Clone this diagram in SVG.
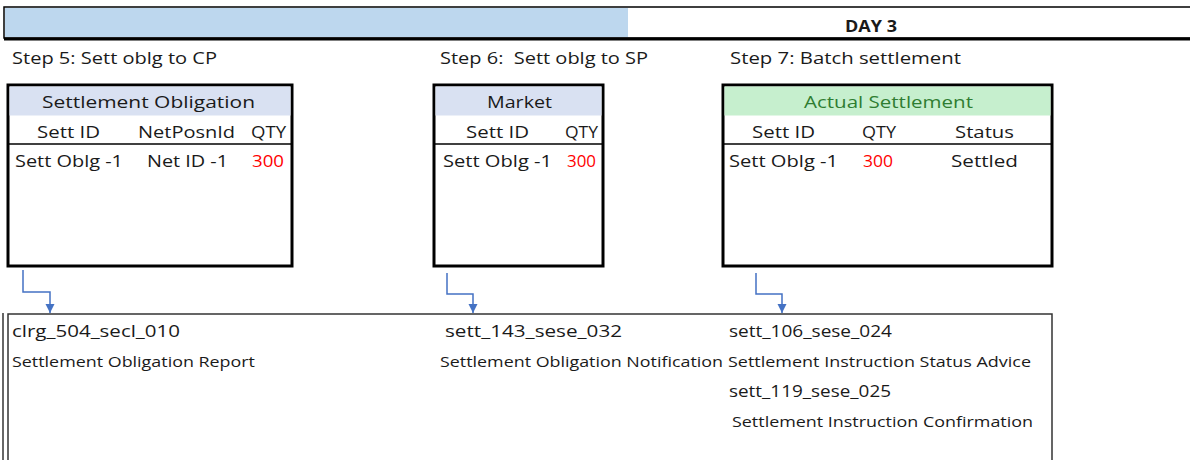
<svg xmlns="http://www.w3.org/2000/svg" width="1190" height="460" viewBox="0 0 1190 460">
<style>
  text { font-family: "Open Sans", "Liberation Sans", sans-serif; fill: #1a1a1a; }
  .t16 { font-size: 16px; }
  .t14 { font-size: 14px; }
  .red { fill: #FF0000; }
  .green { fill: #2F7D32; }
  .box { fill: #fff; stroke: #000; stroke-width: 3; }
  .sep { stroke: #000; stroke-width: 1.5; }
  .conn { fill: none; stroke: #4472C4; stroke-width: 1.5; }
  .frame { fill: none; stroke: #333; stroke-width: 1.5; }
</style>
<defs>
  <marker id="arr" viewBox="0 0 10 10" refX="10" refY="5" markerWidth="9" markerHeight="10" markerUnits="userSpaceOnUse" orient="auto">
    <path d="M0,0 L10,5 L0,10 z" fill="#4472C4"/>
  </marker>
</defs>
<rect width="1190" height="460" fill="#fff"/>

<g id="header-bar">
  <rect x="4" y="7" width="1190" height="31" fill="#fff" stroke="#000" stroke-width="1.5"/>
  <rect x="5" y="8" width="623" height="29" fill="#BDD7EE"/>
  <line x1="4" y1="39" x2="1190" y2="39" stroke="#000" stroke-width="3"/>
  <text x="845" y="32" font-size="16" font-weight="bold" textLength="52" lengthAdjust="spacingAndGlyphs">DAY 3</text>
</g>

<g id="step-labels" class="t16">
  <text x="12" y="64" textLength="205" lengthAdjust="spacingAndGlyphs">Step 5: Sett oblg to CP</text>
  <text x="440" y="64" textLength="208" lengthAdjust="spacingAndGlyphs" xml:space="preserve">Step 6:  Sett oblg to SP</text>
  <text x="730" y="64" textLength="231" lengthAdjust="spacingAndGlyphs">Step 7: Batch settlement</text>
</g>

<g id="settlement-obligation" class="t16">
  <rect class="box" x="8" y="85" width="284" height="181"/>
  <rect x="9.5" y="86.5" width="281" height="29" fill="#D9E1F2"/>
  <line class="sep" x1="9" y1="144" x2="291" y2="144"/>
  <text x="42" y="108" textLength="213" lengthAdjust="spacingAndGlyphs">Settlement Obligation</text>
  <text x="37" y="138" textLength="63" lengthAdjust="spacingAndGlyphs">Sett ID</text>
  <text x="138" y="138" textLength="97" lengthAdjust="spacingAndGlyphs">NetPosnId</text>
  <text x="251" y="138" textLength="35" lengthAdjust="spacingAndGlyphs">QTY</text>
  <text x="15" y="167" textLength="108" lengthAdjust="spacingAndGlyphs">Sett Oblg -1</text>
  <text x="147" y="167" textLength="81" lengthAdjust="spacingAndGlyphs">Net ID -1</text>
  <text class="red" x="252" y="167" textLength="32" lengthAdjust="spacingAndGlyphs">300</text>
</g>

<g id="market" class="t16">
  <rect class="box" x="434" y="85" width="169" height="181"/>
  <rect x="435.5" y="86.5" width="166" height="29" fill="#D9E1F2"/>
  <line class="sep" x1="435" y1="144" x2="602" y2="144"/>
  <text x="487" y="108" textLength="65" lengthAdjust="spacingAndGlyphs">Market</text>
  <text x="466" y="138" textLength="63" lengthAdjust="spacingAndGlyphs">Sett ID</text>
  <text x="565" y="138" textLength="33" lengthAdjust="spacingAndGlyphs">QTY</text>
  <text x="443" y="167" textLength="109" lengthAdjust="spacingAndGlyphs">Sett Oblg -1</text>
  <text class="red" x="567" y="167" textLength="29" lengthAdjust="spacingAndGlyphs">300</text>
</g>

<g id="actual-settlement" class="t16">
  <rect class="box" x="723" y="85" width="329" height="181"/>
  <rect x="724.5" y="86.5" width="326" height="29" fill="#C6EFCE"/>
  <line class="sep" x1="724" y1="144" x2="1051" y2="144"/>
  <text class="green" x="804" y="108" textLength="169" lengthAdjust="spacingAndGlyphs">Actual Settlement</text>
  <text x="752" y="138" textLength="63" lengthAdjust="spacingAndGlyphs">Sett ID</text>
  <text x="862" y="138" textLength="34" lengthAdjust="spacingAndGlyphs">QTY</text>
  <text x="955" y="138" textLength="59" lengthAdjust="spacingAndGlyphs">Status</text>
  <text x="729" y="167" textLength="109" lengthAdjust="spacingAndGlyphs">Sett Oblg -1</text>
  <text class="red" x="863" y="167" textLength="30" lengthAdjust="spacingAndGlyphs">300</text>
  <text x="951" y="167" textLength="67" lengthAdjust="spacingAndGlyphs">Settled</text>
</g>

<g id="connectors">
  <path class="conn" d="M23,270 V292 H50 V313" marker-end="url(#arr)"/>
  <path class="conn" d="M447,273 V294 H473 V313" marker-end="url(#arr)"/>
  <path class="conn" d="M756,273 V294 H782 V313" marker-end="url(#arr)"/>
</g>

<g id="messages">
  <path class="frame" d="M8,460 V314 H1052 V460"/>
  <line class="frame" x1="3" y1="313" x2="3" y2="460"/>
  <text class="t16" x="12" y="337" textLength="168" lengthAdjust="spacingAndGlyphs">clrg_504_secl_010</text>
  <text class="t14" x="12" y="367" textLength="243" lengthAdjust="spacingAndGlyphs">Settlement Obligation Report</text>
  <text class="t16" x="445" y="337" textLength="177" lengthAdjust="spacingAndGlyphs">sett_143_sese_032</text>
  <text class="t14" x="440" y="367" textLength="283" lengthAdjust="spacingAndGlyphs">Settlement Obligation Notification</text>
  <text class="t16" x="729" y="337" textLength="163" lengthAdjust="spacingAndGlyphs">sett_106_sese_024</text>
  <text class="t14" x="728" y="367" textLength="303" lengthAdjust="spacingAndGlyphs">Settlement Instruction Status Advice</text>
  <text class="t16" x="729" y="397" textLength="162" lengthAdjust="spacingAndGlyphs">sett_119_sese_025</text>
  <text class="t14" x="732" y="427" textLength="301" lengthAdjust="spacingAndGlyphs">Settlement Instruction Confirmation</text>
</g>
</svg>
